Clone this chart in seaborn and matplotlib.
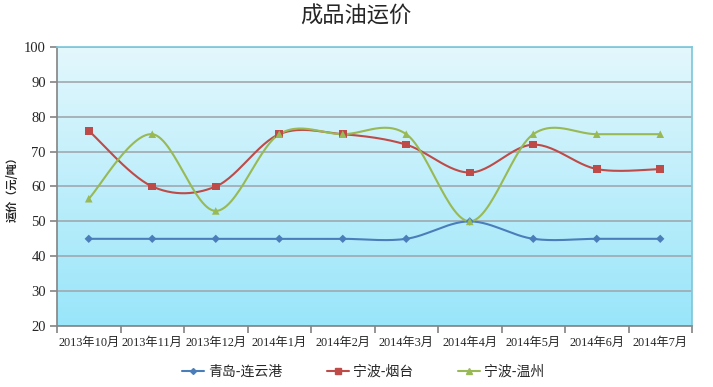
import numpy as np
import pandas as pd
import seaborn as sns
import matplotlib.pyplot as plt
from matplotlib.lines import Line2D

months = ["2013年10月", "2013年11月", "2013年12月", "2014年1月", "2014年2月",
          "2014年3月", "2014年4月", "2014年5月", "2014年6月", "2014年7月"]
qingdao_lianyungang = [45, 45, 45, 45, 45, 45, 50, 45, 45, 45]
ningbo_yantai = [76, 60, 60, 75, 75, 72, 64, 72, 65, 65]
ningbo_wenzhou = [56.5, 75, 53, 75, 75, 75, 50, 75, 75, 75]

series_names = ["青岛-连云港", "宁波-烟台", "宁波-温州"]
series_values = [qingdao_lianyungang, ningbo_yantai, ningbo_wenzhou]
colors = ["#4A7EBB", "#BE4B48", "#98B954"]
markers = ["D", "s", "^"]

sns.set_theme(style="white")
plt.rcParams["font.family"] = ["Liberation Serif", "Noto Sans CJK SC", "DejaVu Sans"]


def smooth_curve(x, y, steps=30):
    """Excel-like smoothed line (Catmull-Rom through the points)."""
    x = np.asarray(x, float)
    y = np.asarray(y, float)
    px = np.concatenate([[x[0]], x, [x[-1]]])
    py = np.concatenate([[y[0]], y, [y[-1]]])
    xs, ys = [], []
    t = np.linspace(0, 1, steps)
    for i in range(1, len(px) - 2):
        for p, out in ((px, xs), (py, ys)):
            p0, p1, p2, p3 = p[i - 1], p[i], p[i + 1], p[i + 2]
            out.extend(0.5 * ((2 * p1) + (-p0 + p2) * t
                              + (2 * p0 - 5 * p1 + 4 * p2 - p3) * t ** 2
                              + (-p0 + 3 * p1 - 3 * p2 + p3) * t ** 3))
    return np.array(xs), np.array(ys)


df = pd.DataFrame({
    "pos": np.tile(np.arange(len(months)), len(series_names)),
    "value": np.concatenate(series_values),
    "route": np.repeat(series_names, len(months)),
})

fig = plt.figure(figsize=(7.13, 3.87), dpi=100)
ax = fig.add_axes([57 / 713, 1 - 326 / 387, 635 / 713, 279 / 387])

# background gradient of the plot area
grad = np.linspace(0, 1, 256).reshape(-1, 1)
top = np.array([0.89, 0.97, 0.99])
bottom = np.array([0.60, 0.90, 0.98])
img = top + (bottom - top) * grad[:, :, None]
ax.imshow(img, extent=[-0.5, 9.5, 20, 100], aspect="auto", zorder=0,
          origin="upper")

for name, color in zip(series_names, colors):
    sub = df[df["route"] == name]
    xs, ys = smooth_curve(sub["pos"], sub["value"])
    ax.plot(xs, ys, color=color, lw=1.5, zorder=3)

sns.scatterplot(data=df, x="pos", y="value", hue="route", style="route",
                palette=colors, markers=dict(zip(series_names, markers)),
                size="route", sizes=dict(zip(series_names, [18, 30, 30])),
                linewidth=0, ax=ax, legend=False, zorder=4)

ax.set_xlim(-0.5, 9.5)
ax.set_ylim(20, 100)
ax.set_yticks(range(20, 101, 10))
ax.yaxis.grid(True, color="#A0A8B0", lw=1.2)
for line in ax.get_ygridlines():
    line.set_zorder(1)

ax.set_xticks(np.arange(-0.5, 10, 1))
ax.set_xticklabels([])
ax.set_xticks(np.arange(len(months)), minor=True)
ax.set_xticklabels(months, minor=True, fontsize=8.8)
ax.tick_params(axis="x", which="major", length=5, color="#888888", direction="out",
               bottom=True)
ax.tick_params(axis="x", which="minor", length=0, pad=8)
ax.tick_params(axis="y", length=5, color="#888888", direction="out", left=True,
               labelsize=10.5, pad=3)

for side in ["left", "bottom"]:
    ax.spines[side].set_color("#888888")
ax.spines["top"].set_color("#7FC8DC")
ax.spines["right"].set_color("#7FC8DC")

ax.set_xlabel("")
ax.set_ylabel("运价（元/吨）", fontsize=8, fontweight="bold",
              family=["Noto Sans CJK SC"], labelpad=4)

fig.text(356 / 713, 1 - 16 / 387, "成品油运价", ha="center", va="center",
         fontsize=16, family=["Noto Sans CJK SC"])

handles = [Line2D([0], [0], color=c, marker=m, markersize=s, lw=1.5)
           for c, m, s in zip(colors, markers, [3, 5, 5])]
fig.legend(handles, series_names, loc="center", bbox_to_anchor=(363 / 713, 1 - 372 / 387),
           ncol=3, frameon=False, handlelength=1.6, columnspacing=3.2,
           handletextpad=0.3,
           prop={"family": ["Noto Sans CJK SC"], "size": 10})

fig.savefig("out.png", dpi=100)
